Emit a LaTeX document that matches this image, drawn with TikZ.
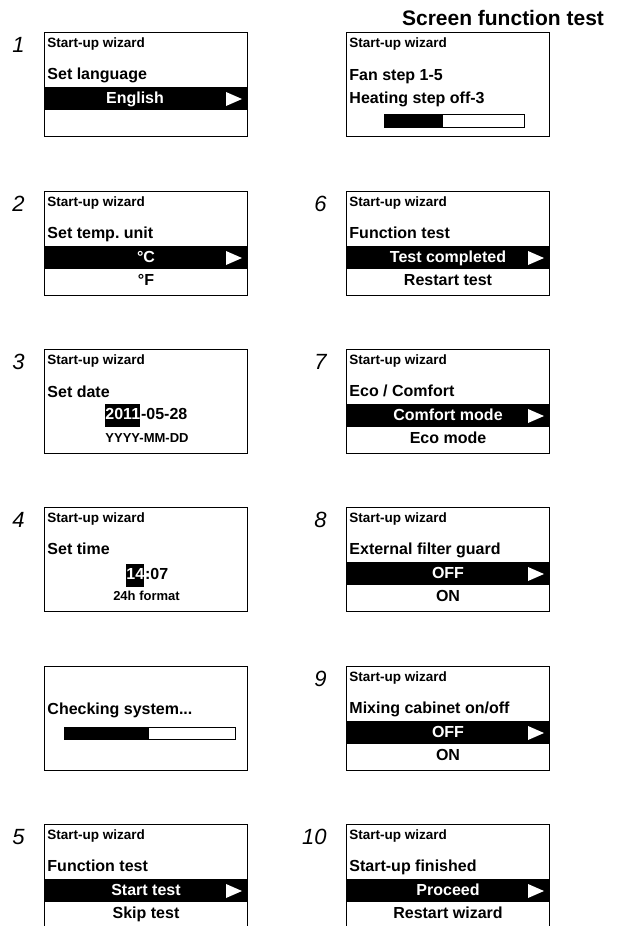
\documentclass[tikz,border=0pt]{standalone}
\usepackage{fontspec}
\setmainfont{Liberation Sans}
\frenchspacing
\begin{document}
\begin{tikzpicture}[x=1pt,y=-1pt,line width=.9pt,
 hdtext/.style={anchor=base west,inner sep=0,font=\fontsize{13.5}{15}\bfseries},
 bigtext/.style={anchor=base west,inner sep=0,font=\fontsize{16}{18}\bfseries},
 opttext/.style={anchor=base,inner sep=0,font=\fontsize{16}{18}\bfseries},
 smalltext/.style={anchor=base,inner sep=0,font=\fontsize{13}{15}\bfseries},
 numtext/.style={anchor=base east,inner sep=0,font=\fontsize{22}{24}\itshape},
 hilite/.style={fill=black,text=white,inner sep=0,text height=15pt,text depth=8pt}]
\useasboundingbox (0,0) rectangle (622,926);
\node[anchor=base,inner sep=0,font=\fontsize{21}{24}\bfseries] (title) at (503,25) {Screen function test};
% menu screens: frame, header, question, chosen option, second option
\foreach \xo/\yo/\num/\ttl/\cx/\opta/\optb in {
 44/32/1/{Set language}/91/{English}/{},
 44/191/2/{Set temp. unit}/102/{°C}/{°F},
 44/824/5/{Function test}/102/{Start test}/{Skip test},
 346/191/6/{Function test}/102/{Test completed}/{Restart test},
 346/349/7/{Eco / Comfort}/102/{Comfort mode}/{Eco mode},
 346/507/8/{External filter guard}/102/{OFF}/{ON},
 346/666/9/{Mixing cabinet on/off}/102/{OFF}/{ON},
 346/824/10/{Start-up finished}/102/{Proceed}/{Restart wizard}} {
 \begin{scope}[shift={(\xo,\yo)}]
 \draw (0,0) rectangle (203,104);
 \node[numtext] (num\num) at (-19,20) {\num};
 \node[hdtext] (hd\num) at (3,15) {Start-up wizard};
 \node[bigtext] (q\num) at (3,47.5) {\ttl};
 \fill (0,55) rectangle (203,78);
 \fill[white] (182,60)--(198,67)--(182,74)--cycle;
 \node[opttext,text=white] (opta\num) at (\cx,71) {\opta};
 \node[opttext] (optb\num) at (102,94) {\optb};
 \end{scope}
}
% screen function test
\begin{scope}[shift={(346,32)}]
 \draw (0,0) rectangle (203,104);
 \node[hdtext] (hdft) at (3,15) {Start-up wizard};
 \node[bigtext] (fan) at (3,48) {Fan step 1-5};
 \node[bigtext] (heat) at (3,71) {Heating step off-3};
 \draw (38,82) rectangle (178,95); \fill (38,82) rectangle (97,95);
\end{scope}
% 3: date
\begin{scope}[shift={(44,349)}]
 \draw (0,0) rectangle (203,104);
 \node[numtext] (num3) at (-19,20) {3};
 \node[hdtext] (hd3) at (3,15) {Start-up wizard};
 \node[bigtext] (q3) at (3,48) {Set date};
 \node[hilite,anchor=base west] (year) at (61,70) {\fontsize{16}{18}\bfseries 2011};
 \node[bigtext] (mday) at (year.base east) {-05-28};
 \node[smalltext] (dfmt) at (103,93) {YYYY-MM-DD};
\end{scope}
% 4: time
\begin{scope}[shift={(44,507)}]
 \draw (0,0) rectangle (203,104);
 \node[numtext] (num4) at (-19,20) {4};
 \node[hdtext] (hd4) at (3,15) {Start-up wizard};
 \node[bigtext] (q4) at (3,47) {Set time};
 \node[hilite,anchor=base west] (hour) at (82,72) {\fontsize{16}{18}\bfseries 14};
 \node[bigtext] (mins) at (hour.base east) {:07};
 \node[smalltext] (tfmt) at (102.5,93) {24h format};
\end{scope}
% checking
\begin{scope}[shift={(44,666)}]
 \draw (0,0) rectangle (203,104);
 \node[bigtext] (check) at (3,48) {Checking system...};
 \draw (20,61) rectangle (191,73); \fill (20,61) rectangle (105,73);
\end{scope}
\end{tikzpicture}
\end{document}
